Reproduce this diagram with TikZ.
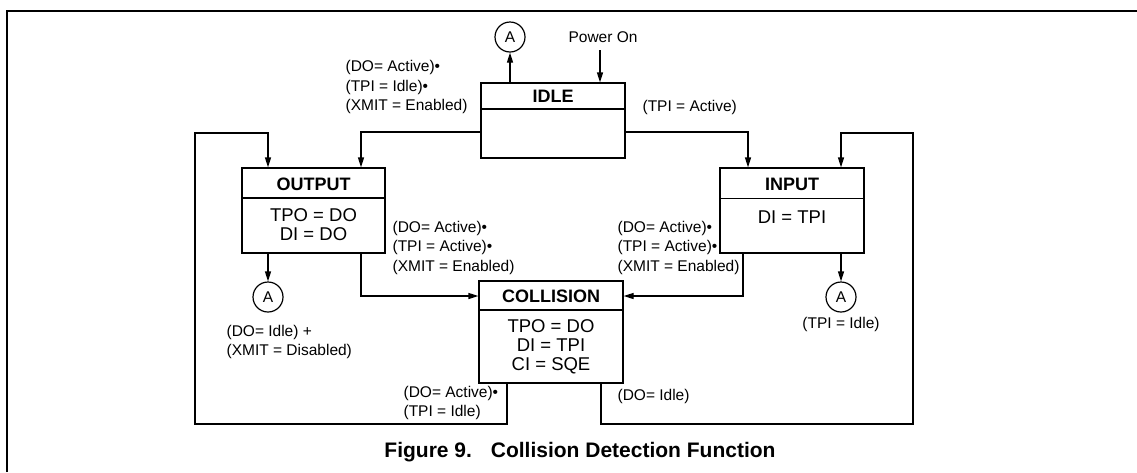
\documentclass[tikz,border=0pt]{standalone}
\usepackage{fontspec}
\setmainfont{Liberation Sans}
\usetikzlibrary{arrows.meta}
\begin{document}
\begin{tikzpicture}[x=1pt,y=-1pt,
  line width=1.2pt,
  arr/.style={-{Triangle[length=10pt,width=6pt]}},
  statebox/.style={draw,rectangle,inner sep=0pt},
  ttl/.style={font=\fontsize{18}{19}\selectfont\bfseries,inner sep=0pt},
  bdy/.style={font=\fontsize{18.5}{18.8}\selectfont,align=center,inner sep=0pt},
  lbl/.style={font=\fontsize{15.5}{19.5}\selectfont,align=left,inner sep=0pt,anchor=west},
  conn/.style={draw,circle,minimum size=30pt,inner sep=0pt,font=\fontsize{15.5}{16}\selectfont}
]
\useasboundingbox (0,0) rectangle (1137,472);
\draw[line width=2pt] (7,472) -- (7,11) -- (1137,11);

% states
\node[statebox,minimum width=144pt,minimum height=75pt] (idle) at (553,120.5) {};
\node[statebox,minimum width=143pt,minimum height=85pt] (output) at (313.5,210.5) {};
\node[statebox,minimum width=144pt,minimum height=85pt] (input) at (792,210.5) {};
\node[statebox,minimum width=144pt,minimum height=102pt] (coll) at (551,332) {};

\draw ([yshift=11.5pt]idle.west) -- ([yshift=11.5pt]idle.east);
\draw ([yshift=12.5pt]output.west) -- ([yshift=12.5pt]output.east);
\draw ([yshift=12pt]input.west) -- ([yshift=12pt]input.east);
\draw ([yshift=22pt]coll.west) -- ([yshift=22pt]coll.east);

\node[ttl] (idleT) at (553,96.5) {IDLE};
\node[ttl] (outT) at (313.5,184) {OUTPUT};
\node[ttl] (inT) at (792,184) {INPUT};
\node[ttl] (collT) at (551,296.5) {COLLISION};

\node[bdy] (outB) at (313.5,224.5) {TPO = DO\\DI = DO};
\node[bdy] (inB) at (792,217) {DI = TPI};
\node[bdy] (collB) at (551,346.5) {TPO = DO\\DI = TPI\\CI = SQE};

% connectors A
\node[conn] (atop) at (510,37) {A};
\node[conn] (aleft) at (268,297) {A};
\node[conn] (aright) at (841,297) {A};

\node[font=\fontsize{15.5}{16}\selectfont,inner sep=0pt] (pon) at (603,37) {Power On};
\coordinate (ponS) at (600,50);

% edges
\draw[arr] (idle.north -| atop) -- (atop.south);
\draw[arr] (ponS) -- (ponS |- idle.north);
\draw[arr] ([yshift=-11.5pt]idle.west) -| ([xshift=47.5pt]output.north);
\draw[arr] ([yshift=-11.5pt]idle.east) -| ([xshift=-44pt]input.north);
\draw[arr] ([xshift=47.5pt]output.south) |- ([yshift=36pt]coll.west);
\draw[arr] ([xshift=-49pt]input.south) |- ([yshift=36pt]coll.east);
\draw[arr] (output.south -| aleft) -- (aleft.north);
\draw[arr] (input.south -| aright) -- (aright.north);

\coordinate (ll1) at (195,424);
\coordinate (ll2) at (195,133);
\coordinate (rl1) at (913,424);
\coordinate (rl2) at (913,133);
\draw[arr] ([xshift=-44pt]coll.south) |- (ll1) -- (ll2) -| ([xshift=-45.5pt]output.north);
\draw[arr] ([xshift=50pt]coll.south) |- (rl1) -- (rl2) -| ([xshift=49pt]input.north);

% labels
\node[lbl] (l1) at (345,87) {(DO= Active)•\\(TPI = Idle)•\\(XMIT = Enabled)};
\node[lbl] (l2) at (642,107) {(TPI = Active)};
\node[lbl] (l3) at (392,247.5) {(DO= Active)•\\(TPI = Active)•\\(XMIT = Enabled)};
\node[lbl] (l4) at (617,247.5) {(DO= Active)•\\(TPI = Active)•\\(XMIT = Enabled)};
\node[lbl] (l5) at (226,342) {(DO= Idle) +\\(XMIT = Disabled)};
\node[lbl,anchor=center] (l6) at (841,324) {(TPI = Idle)};
\node[lbl] (l7) at (403,403) {(DO= Active)•\\(TPI = Idle)};
\node[lbl] (l8) at (617,396) {(DO= Idle)};

\node[font=\fontsize{21}{24}\selectfont\bfseries,inner sep=0pt] (cap) at (580,452) {Figure 9.\hspace{0.9em}Collision Detection Function};
\end{tikzpicture}
\end{document}
